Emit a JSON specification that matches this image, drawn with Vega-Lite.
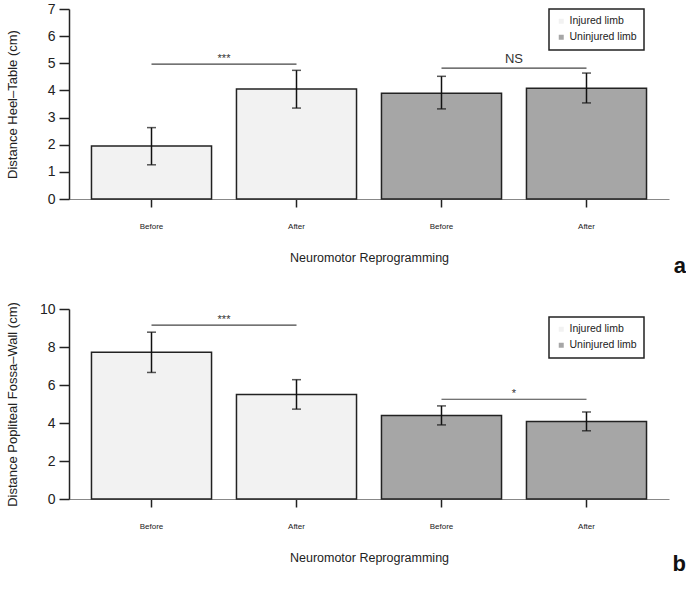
{
  "$schema": "https://vega.github.io/schema/vega-lite/v6.json",
  "padding": {"left": 5, "top": 2, "right": 0, "bottom": 0},
  "background": "white",
  "bounds": "flush",
  "spacing": 110,
  "datasets": {
    "bars": [
      {"panel": "a", "key": "Injured|Before", "limb": "Injured limb", "value": 1.95, "lo": 1.26, "hi": 2.63},
      {"panel": "a", "key": "Injured|After", "limb": "Injured limb", "value": 4.05, "lo": 3.35, "hi": 4.74},
      {"panel": "a", "key": "Uninjured|Before", "limb": "Uninjured limb", "value": 3.9, "lo": 3.32, "hi": 4.52},
      {"panel": "a", "key": "Uninjured|After", "limb": "Uninjured limb", "value": 4.08, "lo": 3.54, "hi": 4.64},
      {"panel": "b", "key": "Injured|Before", "limb": "Injured limb", "value": 7.72, "lo": 6.66, "hi": 8.78},
      {"panel": "b", "key": "Injured|After", "limb": "Injured limb", "value": 5.5, "lo": 4.73, "hi": 6.28},
      {"panel": "b", "key": "Uninjured|Before", "limb": "Uninjured limb", "value": 4.4, "lo": 3.9, "hi": 4.9},
      {"panel": "b", "key": "Uninjured|After", "limb": "Uninjured limb", "value": 4.08, "lo": 3.59, "hi": 4.58}
    ],
    "sig": [
      {"panel": "a", "from": "Injured|Before", "to": "Injured|After", "y": 4.97, "label": "***"},
      {"panel": "a", "from": "Uninjured|Before", "to": "Uninjured|After", "y": 4.82, "label": "NS"},
      {"panel": "b", "from": "Injured|Before", "to": "Injured|After", "y": 9.15, "label": "***"},
      {"panel": "b", "from": "Uninjured|Before", "to": "Uninjured|After", "y": 5.25, "label": "*"}
    ]
  },
  "vconcat": [
    {
      "width": 600,
      "height": 190,
      "title": {"text": "a", "orient": "bottom", "anchor": "end", "fontSize": 22, "fontWeight": "bold", "font": "Liberation Sans", "dx": 17, "offset": -8, "color": "#111"},
      "layer": [
        {
          "data": {"name": "bars"},
          "transform": [{"filter": "datum.panel == 'a'"}],
          "mark": {"type": "bar", "stroke": "#222", "strokeWidth": 1.5},
          "encoding": {
            "x": {"field": "key", "type": "nominal", "sort": null,
              "scale": {"domain": ["Injured|Before", "Injured|After", "Uninjured|Before", "Uninjured|After"], "paddingInner": 0.172, "paddingOuter": 0.155},
              "axis": {"title": "Neuromotor Reprogramming", "labelExpr": "split(datum.value, '|')[1]"}},
            "y": {"field": "value", "type": "quantitative",
              "scale": {"domain": [0, 7], "nice": false},
              "axis": {"title": "Distance Heel\u2013Table (cm)", "values": [0, 1, 2, 3, 4, 5, 6, 7], "labelOverlap": false, "tickCount": 8}},
            "fill": {"field": "limb", "type": "nominal",
              "scale": {"domain": ["Injured limb", "Uninjured limb"], "range": ["#f2f2f2", "#a6a6a6"]},
              "legend": {"orient": "none", "legendX": 480, "legendY": 0, "title": null}}
          }
        },
        {
          "data": {"name": "bars"},
          "transform": [{"filter": "datum.panel == 'a'"}],
          "mark": {"type": "rule", "color": "#111", "strokeWidth": 1.5},
          "encoding": {
            "x": {"field": "key", "type": "nominal", "sort": null},
            "y": {"field": "lo", "type": "quantitative", "axis": {"title": "Distance Heel\u2013Table (cm)", "values": [0, 1, 2, 3, 4, 5, 6, 7], "labelOverlap": false, "tickCount": 8}},
            "y2": {"field": "hi"}
          }
        },
        {
          "data": {"name": "bars"},
          "transform": [{"filter": "datum.panel == 'a'"}],
          "mark": {"type": "tick", "color": "#111", "thickness": 1.5, "size": 9},
          "encoding": {
            "x": {"field": "key", "type": "nominal", "sort": null},
            "y": {"field": "lo", "type": "quantitative", "axis": {"title": "Distance Heel\u2013Table (cm)", "values": [0, 1, 2, 3, 4, 5, 6, 7], "labelOverlap": false, "tickCount": 8}}
          }
        },
        {
          "data": {"name": "bars"},
          "transform": [{"filter": "datum.panel == 'a'"}],
          "mark": {"type": "tick", "color": "#111", "thickness": 1.5, "size": 9},
          "encoding": {
            "x": {"field": "key", "type": "nominal", "sort": null},
            "y": {"field": "hi", "type": "quantitative", "axis": {"title": "Distance Heel\u2013Table (cm)", "values": [0, 1, 2, 3, 4, 5, 6, 7], "labelOverlap": false, "tickCount": 8}}
          }
        },
        {
          "data": {"name": "sig"},
          "transform": [{"filter": "datum.panel == 'a'"}],
          "mark": {"type": "rule", "color": "#444", "strokeWidth": 1.2},
          "encoding": {
            "x": {"field": "from", "type": "nominal", "sort": null},
            "x2": {"field": "to"},
            "y": {"field": "y", "type": "quantitative", "axis": {"title": "Distance Heel\u2013Table (cm)", "values": [0, 1, 2, 3, 4, 5, 6, 7], "labelOverlap": false, "tickCount": 8}}
          }
        },
        {
          "data": {"name": "sig"},
          "transform": [{"filter": "datum.panel == 'a' && datum.label != 'NS'"}],
          "mark": {"type": "text", "fontSize": 11, "baseline": "bottom", "dx": 72.5, "dy": 0, "color": "#333"},
          "encoding": {
            "x": {"field": "from", "type": "nominal", "sort": null},
            "y": {"field": "y", "type": "quantitative", "axis": {"title": "Distance Heel\u2013Table (cm)", "values": [0, 1, 2, 3, 4, 5, 6, 7], "labelOverlap": false, "tickCount": 8}},
            "text": {"field": "label"}
          }
        },
        {
          "data": {"name": "sig"},
          "transform": [{"filter": "datum.panel == 'a' && datum.label == 'NS'"}],
          "mark": {"type": "text", "fontSize": 13, "baseline": "bottom", "dx": 72.5, "dy": -2, "color": "#333"},
          "encoding": {
            "x": {"field": "from", "type": "nominal", "sort": null},
            "y": {"field": "y", "type": "quantitative", "axis": {"title": "Distance Heel\u2013Table (cm)", "values": [0, 1, 2, 3, 4, 5, 6, 7], "labelOverlap": false, "tickCount": 8}},
            "text": {"field": "label"}
          }
        }
      ]
    },
    {
      "width": 600,
      "height": 190,
      "title": {"text": "b", "orient": "bottom", "anchor": "end", "fontSize": 22, "fontWeight": "bold", "font": "Liberation Sans", "dx": 17, "offset": -10, "color": "#111"},
      "layer": [
        {
          "data": {"name": "bars"},
          "transform": [{"filter": "datum.panel == 'b'"}],
          "mark": {"type": "bar", "stroke": "#222", "strokeWidth": 1.5},
          "encoding": {
            "x": {"field": "key", "type": "nominal", "sort": null,
              "scale": {"domain": ["Injured|Before", "Injured|After", "Uninjured|Before", "Uninjured|After"], "paddingInner": 0.172, "paddingOuter": 0.155},
              "axis": {"title": "Neuromotor Reprogramming", "labelExpr": "split(datum.value, '|')[1]"}},
            "y": {"field": "value", "type": "quantitative",
              "scale": {"domain": [0, 10], "nice": false},
              "axis": {"title": "Distance Popliteal Fossa\u2013Wall (cm)", "values": [0, 2, 4, 6, 8, 10], "labelOverlap": false, "tickCount": 6}},
            "fill": {"field": "limb", "type": "nominal",
              "scale": {"domain": ["Injured limb", "Uninjured limb"], "range": ["#f2f2f2", "#a6a6a6"]},
              "legend": {"orient": "none", "legendX": 480, "legendY": 8, "title": null}}
          }
        },
        {
          "data": {"name": "bars"},
          "transform": [{"filter": "datum.panel == 'b'"}],
          "mark": {"type": "rule", "color": "#111", "strokeWidth": 1.5},
          "encoding": {
            "x": {"field": "key", "type": "nominal", "sort": null},
            "y": {"field": "lo", "type": "quantitative", "axis": {"title": "Distance Popliteal Fossa\u2013Wall (cm)", "values": [0, 2, 4, 6, 8, 10], "labelOverlap": false, "tickCount": 6}},
            "y2": {"field": "hi"}
          }
        },
        {
          "data": {"name": "bars"},
          "transform": [{"filter": "datum.panel == 'b'"}],
          "mark": {"type": "tick", "color": "#111", "thickness": 1.5, "size": 9},
          "encoding": {
            "x": {"field": "key", "type": "nominal", "sort": null},
            "y": {"field": "lo", "type": "quantitative", "axis": {"title": "Distance Popliteal Fossa\u2013Wall (cm)", "values": [0, 2, 4, 6, 8, 10], "labelOverlap": false, "tickCount": 6}}
          }
        },
        {
          "data": {"name": "bars"},
          "transform": [{"filter": "datum.panel == 'b'"}],
          "mark": {"type": "tick", "color": "#111", "thickness": 1.5, "size": 9},
          "encoding": {
            "x": {"field": "key", "type": "nominal", "sort": null},
            "y": {"field": "hi", "type": "quantitative", "axis": {"title": "Distance Popliteal Fossa\u2013Wall (cm)", "values": [0, 2, 4, 6, 8, 10], "labelOverlap": false, "tickCount": 6}}
          }
        },
        {
          "data": {"name": "sig"},
          "transform": [{"filter": "datum.panel == 'b'"}],
          "mark": {"type": "rule", "color": "#444", "strokeWidth": 1.2},
          "encoding": {
            "x": {"field": "from", "type": "nominal", "sort": null},
            "x2": {"field": "to"},
            "y": {"field": "y", "type": "quantitative", "axis": {"title": "Distance Popliteal Fossa\u2013Wall (cm)", "values": [0, 2, 4, 6, 8, 10], "labelOverlap": false, "tickCount": 6}}
          }
        },
        {
          "data": {"name": "sig"},
          "transform": [{"filter": "datum.panel == 'b'"}],
          "mark": {"type": "text", "fontSize": 11, "baseline": "bottom", "dx": 72.5, "dy": 0, "color": "#333"},
          "encoding": {
            "x": {"field": "from", "type": "nominal", "sort": null},
            "y": {"field": "y", "type": "quantitative", "axis": {"title": "Distance Popliteal Fossa\u2013Wall (cm)", "values": [0, 2, 4, 6, 8, 10], "labelOverlap": false, "tickCount": 6}},
            "text": {"field": "label"}
          }
        }
      ]
    }
  ],
  "resolve": {"scale": {"y": "independent", "fill": "independent", "x": "independent"}, "legend": {"fill": "independent"}},
  "config": {
    "font": "Liberation Sans",
    "view": {"stroke": null},
    "axisY": {"domainColor": "#222", "domainWidth": 1.5, "tickColor": "#222", "tickWidth": 1.5, "tickSize": 10, "labelFontSize": 14, "labelPadding": 4, "labelColor": "#222", "grid": false, "titleFontSize": 13, "titleFontWeight": "normal", "titleColor": "#222", "titleX": -57, "titleBaseline": "middle"},
    "axisX": {"domainColor": "#888", "domainWidth": 1, "tickColor": "#222", "tickWidth": 1.5, "tickSize": 8, "labelFontSize": 8, "labelColor": "#222", "labelPadding": 15, "labelAngle": 0, "grid": false, "titleFontSize": 12.5, "titleFontWeight": "normal", "titleColor": "#222", "titlePadding": 21},
    "legend": {"strokeColor": "#222", "strokeWidth": 1.5, "padding": 7, "rowPadding": 5, "labelFontSize": 10.5, "labelColor": "#222", "symbolType": "square", "symbolSize": 25, "symbolStrokeWidth": 0, "labelOffset": 3}
  }
}
